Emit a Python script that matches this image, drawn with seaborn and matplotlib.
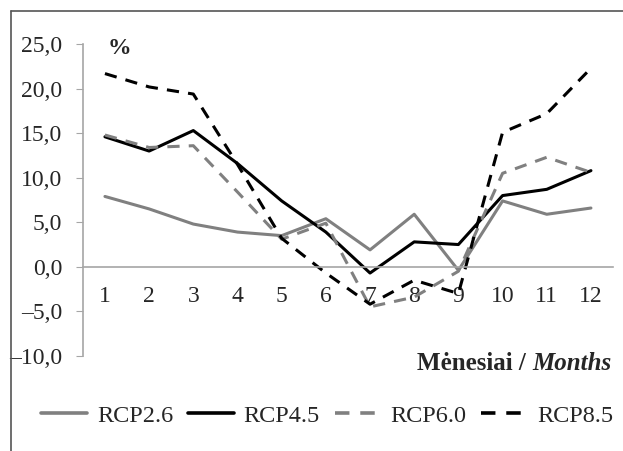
import numpy as np
import pandas as pd
import matplotlib
matplotlib.use("Agg")
import matplotlib.pyplot as plt
import seaborn as sns
from matplotlib.lines import Line2D
from matplotlib.ticker import FuncFormatter

months = list(range(1, 13))
rcp26 = [7.9, 6.5, 4.8, 3.9, 3.5, 5.4, 1.9, 5.9, -0.4, 7.4, 5.9, 6.6]
rcp45 = [14.6, 13.0, 15.3, 11.6, 7.4, 3.9, -0.7, 2.8, 2.5, 8.0, 8.7, 10.8]
rcp60 = [14.8, 13.4, 13.6, 8.4, 3.1, 4.9, -4.5, -3.4, -0.5, 10.5, 12.3, 10.6]
rcp85 = [21.7, 20.2, 19.4, 11.5, 3.2, -0.7, -4.2, -1.5, -3.0, 15.1, 17.2, 22.3]
names = ["RCP2.6", "RCP4.5", "RCP6.0", "RCP8.5"]

df = pd.DataFrame({
    "month": months * 4,
    "value": rcp26 + rcp45 + rcp60 + rcp85,
    "scenario": [n for n in names for _ in months],
})

sns.set_style("white")
plt.rcParams["font.family"] = ["Liberation Serif", "DejaVu Serif"]

fig = plt.figure(figsize=(6.23, 4.51), dpi=100)
ax = fig.add_axes([0.133, 0.211, 0.851, 0.691])

palette = {"RCP2.6": "#808080", "RCP4.5": "#000000", "RCP6.0": "#808080", "RCP8.5": "#000000"}
dashes = {"RCP2.6": "", "RCP4.5": "", "RCP6.0": (4, 3), "RCP8.5": (4, 3)}
sns.lineplot(data=df, x="month", y="value", hue="scenario", style="scenario",
             palette=palette, dashes=dashes, linewidth=2.2, ax=ax, legend=False)

ax.set_xlim(0.5, 12.5)
ax.set_ylim(-10, 25)
ax.set_yticks(np.arange(-10, 26, 5))
ax.yaxis.set_major_formatter(FuncFormatter(lambda v, p: f"{v:.1f}".replace(".", ",").replace("-", "\u2013")))
ax.set_xticks(months)
ax.set_xticks(np.arange(0.5, 13, 1), minor=True)
ax.tick_params(axis="x", which="major", length=0, pad=14, labelsize=17)
ax.tick_params(axis="x", which="minor", length=5, color="#a6a6a6", direction="out")
ax.tick_params(axis="y", length=5, color="#a6a6a6", labelsize=17, pad=10, left=True)
for s in ["top", "right"]:
    ax.spines[s].set_visible(False)
ax.spines["bottom"].set_position(("data", 0))
for s in ["bottom", "left"]:
    ax.spines[s].set_color("#a6a6a6")
    ax.spines[s].set_linewidth(1.2)
ax.set_xlabel("")
ax.set_ylabel("")

fig.text(0.172, 0.893, "%", fontsize=17, fontweight="bold", va="center")
fig.text(0.854, 0.195, "Mėnesiai / ", fontsize=18, fontweight="bold", ha="right", va="center")
fig.text(0.854, 0.195, "Months", fontsize=18, fontweight="bold", style="italic", ha="left", va="center")

handles = [Line2D([], [], color=palette[n], lw=2.6,
                  linestyle=(0, dashes[n]) if dashes[n] else "-") for n in names]
fig.legend(handles, names, loc="center", bbox_to_anchor=(0.525, 0.078), ncol=4,
           frameon=False, fontsize=17.5, handlelength=1.9, columnspacing=0.6, handletextpad=0.4)

# outer border (left and top)
fig.add_artist(Line2D([0.018, 0.018], [0, 0.975], transform=fig.transFigure, color="#555555", lw=1.2))
fig.add_artist(Line2D([0.018, 1.0], [0.975, 0.975], transform=fig.transFigure, color="#555555", lw=1.2))

fig.savefig("out.png", dpi=100)
